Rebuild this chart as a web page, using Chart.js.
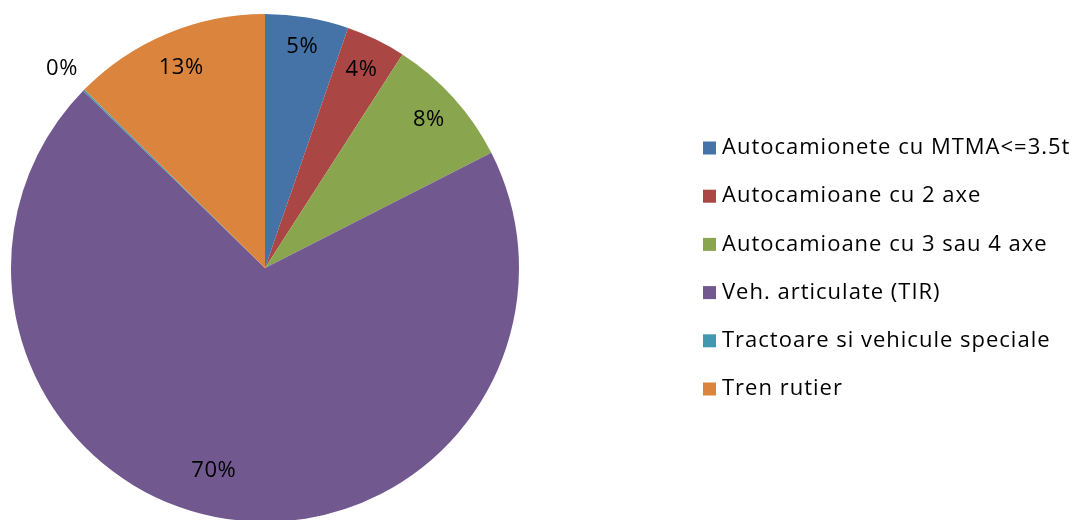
<!DOCTYPE html>
<html>
<head>
<meta charset="utf-8">
<script src="https://cdn.jsdelivr.net/npm/chart.js@4"></script>
<style>
  html, body { margin: 0; padding: 0; background: #ffffff; overflow: hidden; width: 1075px; height: 520px; }
  canvas { display: block; }
</style>
</head>
<body>
<canvas id="c" width="1075" height="530"></canvas>
<script>
const categories = [
  "Autocamionete cu MTMA<=3.5t",
  "Autocamioane cu 2 axe",
  "Autocamioane cu 3 sau 4 axe",
  "Veh. articulate (TIR)",
  "Tractoare si vehicule speciale",
  "Tren rutier"
];
const shares = [5.3, 3.8, 8.4, 69.8, 0.1, 12.6];
const shareLabels = ["5%", "4%", "8%", "70%", "0%", "13%"];
const colors = ["#4572A7", "#AA4643", "#89A54E", "#71588F", "#4198AF", "#DB843D"];

const FONT = '"Open Sans", "Noto Sans", sans-serif';

const labelPlugin = {
  id: 'sliceLabels',
  afterDatasetsDraw(chart, args, opts) {
    const ctx = chart.ctx;
    const meta = chart.getDatasetMeta(0);
    ctx.save();
    ctx.font = opts.font;
    if ('letterSpacing' in ctx) ctx.letterSpacing = opts.spacing;
    ctx.fillStyle = '#000000';
    ctx.textAlign = 'center';
    ctx.textBaseline = 'middle';
    meta.data.forEach((arc, i) => {
      const p = arc.getProps(['x', 'y', 'startAngle', 'endAngle', 'outerRadius'], true);
      const mid = (p.startAngle + p.endAngle) / 2 + (opts.angleShift[i] || 0) * Math.PI / 180;
      const r = p.outerRadius * opts.radius[i];
      ctx.fillText(shareLabels[i], p.x + Math.cos(mid) * r, p.y + Math.sin(mid) * r);
    });
    ctx.restore();
  }
};

const legendPlugin = {
  id: 'sideLegend',
  afterDraw(chart, args, opts) {
    const ctx = chart.ctx;
    ctx.save();
    ctx.font = opts.font;
    if ('letterSpacing' in ctx) ctx.letterSpacing = opts.spacing;
    ctx.textAlign = 'left';
    ctx.textBaseline = 'middle';
    chart.data.labels.forEach((lab, i) => {
      const y = opts.top + i * opts.step;
      ctx.fillStyle = chart.data.datasets[0].backgroundColor[i];
      ctx.fillRect(opts.left, y - opts.box / 2, opts.box, opts.box);
      ctx.fillStyle = '#000000';
      ctx.fillText(lab, opts.left + opts.box + 6, y);
    });
    ctx.restore();
  }
};

new Chart(document.getElementById('c'), {
  type: 'pie',
  data: {
    labels: categories,
    datasets: [{
      data: shares,
      backgroundColor: colors,
      borderWidth: 0
    }]
  },
  options: {
    responsive: false,
    animation: false,
    devicePixelRatio: 1,
    layout: { padding: { left: 11, right: 556, top: 14, bottom: 8 } },
    plugins: {
      legend: { display: false },
      tooltip: { enabled: false },
      sliceLabels: {
        font: '22px ' + FONT,
        spacing: '0.6px',
        radius: [0.885, 0.87, 0.87, 0.825, 1.12, 0.855],
        angleShift: [0, 0, 0, 5.5, 0, 0]
      },
      sideLegend: {
        font: '22px ' + FONT,
        spacing: '1px',
        left: 703, top: 148, step: 48.2, box: 13
      }
    }
  },
  plugins: [labelPlugin, legendPlugin]
});
</script>
</body>
</html>
